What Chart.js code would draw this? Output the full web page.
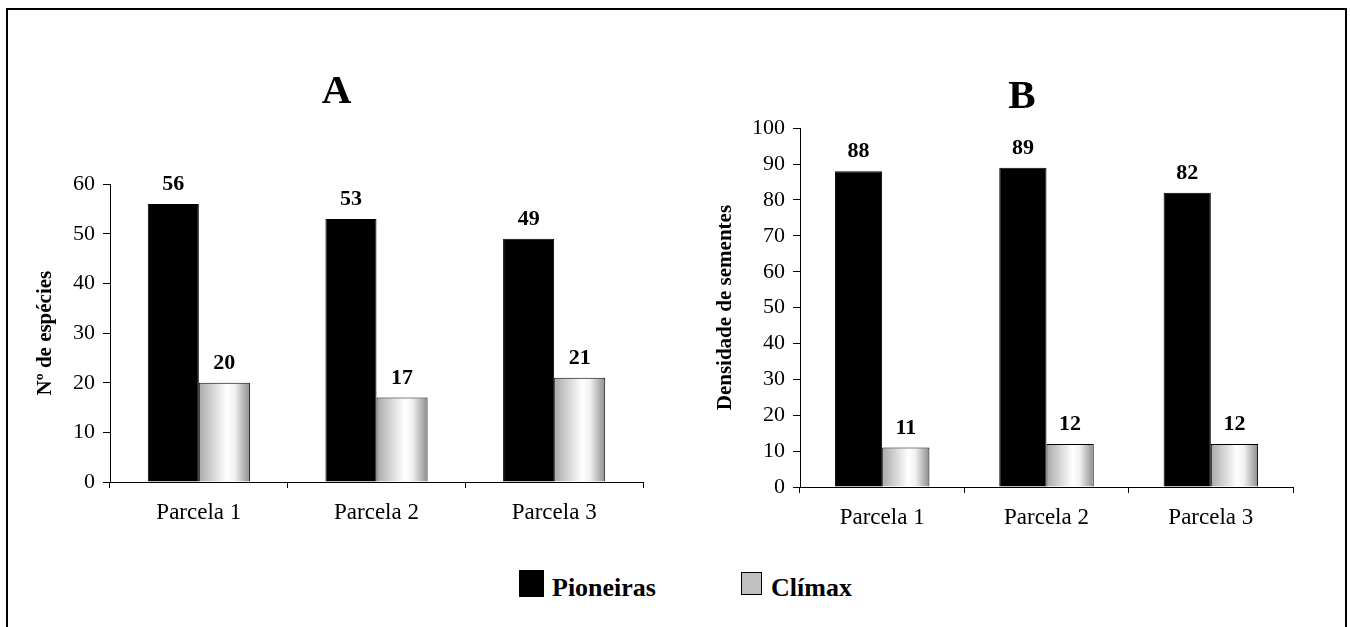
<!DOCTYPE html>
<html>
<head>
<meta charset="utf-8">
<script src="https://cdn.jsdelivr.net/npm/chart.js@4.4.0/dist/chart.umd.min.js"></script>
<style>
  body { margin: 0; background: #fff; width: 1350px; height: 627px; overflow: hidden; position: relative; font-family: "Liberation Serif", "Times New Roman", serif; }
  #frame { position: absolute; left: 6px; top: 8px; width: 1337px; height: 700px; border: 2px solid #000; border-bottom: none; z-index: 0; }
  canvas { position: absolute; top: 0; z-index: 1; }
  #chartA { left: 0; }
  #chartB { left: 675px; }
  .legBox { position: absolute; z-index: 2; box-sizing: border-box; }
  .legText { position: absolute; z-index: 2; font-size: 26px; font-weight: bold; line-height: 26px; color: #000; white-space: nowrap; }
</style>
</head>
<body>
<div id="frame"></div>
<canvas id="chartA" width="675" height="545"></canvas>
<canvas id="chartB" width="675" height="545"></canvas>
<div id="legend"></div>
<script>
// data
var categories = ["Parcela 1", "Parcela 2", "Parcela 3"];
var seriesNames = ["Pioneiras", "Clímax"];
var pioneirasEspecies = [56, 53, 49];
var climaxEspecies = [20, 17, 21];
var pioneirasDensidade = [88, 89, 82];
var climaxDensidade = [11, 12, 12];
var maxA = 60, maxB = 100, stepAB = 10;

var serif = '"Liberation Serif", "Times New Roman", serif';
Chart.defaults.font.family = serif;
Chart.defaults.color = "#000";
var catPct = 0.575;

// shaded fill for the climax bars (grey - white - grey, like the original)
function climaxFill(c) {
  var xs = c.chart.scales.x;
  if (c.type !== "data" || !xs || !c.chart.chartArea) return "#c0c0c0";
  var catW = (xs.right - xs.left) / categories.length;
  var x0 = xs.getPixelForValue(c.dataIndex);
  var x1 = x0 + catW * catPct / 2;
  var g = c.chart.ctx.createLinearGradient(x0, 0, x1, 0);
  g.addColorStop(0, "#a9a9a9");
  g.addColorStop(0.55, "#ffffff");
  g.addColorStop(0.7, "#f2f2f2");
  g.addColorStop(1, "#8c8c8c");
  return g;
}

// numbers above the bars
var valueLabels = {
  id: "valueLabels",
  afterDatasetsDraw: function (chart) {
    var ctx = chart.ctx;
    ctx.save();
    ctx.font = "bold 22px " + serif;
    ctx.textAlign = "center";
    ctx.textBaseline = "alphabetic";
    ctx.fillStyle = "#000";
    chart.data.datasets.forEach(function (ds, i) {
      chart.getDatasetMeta(i).data.forEach(function (bar, j) {
        ctx.fillText(ds.data[j], bar.x, bar.y - 14);
      });
    });
    ctx.restore();
  }
};

function makeChart(id, title, yTitle, pio, cli, yMax, pad, titlePad, yWidth, yTitlePad) {
  return new Chart(document.getElementById(id), {
    type: "bar",
    data: {
      labels: categories,
      datasets: [
        { label: seriesNames[0], data: pio, backgroundColor: "#000", borderColor: "#000", borderWidth: 1 },
        { label: seriesNames[1], data: cli, backgroundColor: climaxFill, borderColor: "#000", borderWidth: 1 }
      ]
    },
    options: {
      responsive: false,
      animation: false,
      events: [],
      layout: { padding: pad },
      datasets: { bar: { barPercentage: 1, categoryPercentage: catPct } },
      scales: {
        x: {
          grid: { drawOnChartArea: false, tickLength: 6, color: "#000", offset: true },
          border: { color: "#000", width: 1 },
          ticks: { color: "#000", font: { size: 23 }, padding: 11 },
          afterFit: function (s) { s.height = 50; }
        },
        y: {
          min: 0, max: yMax,
          grid: { drawOnChartArea: false, tickLength: 7, color: "#000" },
          border: { color: "#000", width: 1 },
          ticks: { stepSize: stepAB, color: "#000", font: { size: 22 }, padding: 8 },
          title: { display: true, text: yTitle, color: "#000", font: { size: 21, weight: "bold" }, padding: { top: yTitlePad, bottom: 0 } },
          afterFit: function (s) { s.width = yWidth; }
        }
      },
      plugins: {
        legend: { display: false },
        tooltip: { enabled: false },
        title: { display: true, text: title, color: "#000", font: { size: 41, weight: "bold" }, padding: titlePad }
      }
    },
    plugins: [valueLabels]
  });
}

var chartA = makeChart("chartA", "A", "Nº de espécies", pioneirasEspecies, climaxEspecies, maxA,
  { left: 30, right: 32, top: 60, bottom: 13 }, { top: 8, bottom: 67 }, 80, 3);
var chartB = makeChart("chartB", "B", "Densidade de sementes", pioneirasDensidade, climaxDensidade, maxB,
  { left: 76, right: 57, top: 65, bottom: 8 }, { top: 8, bottom: 6 }, 49, -38);

// legend shared by both charts
var legend = document.getElementById("legend");
var legItems = [
  { name: seriesNames[0], box: [519, 570, 25, 27], fill: "#000", border: "none", textLeft: 552 },
  { name: seriesNames[1], box: [741, 572, 21, 23], fill: "#c0c0c0", border: "1px solid #000", textLeft: 771 }
];
legItems.forEach(function (it) {
  var b = document.createElement("div");
  b.className = "legBox";
  b.style.left = it.box[0] + "px";
  b.style.top = it.box[1] + "px";
  b.style.width = it.box[2] + "px";
  b.style.height = it.box[3] + "px";
  b.style.background = it.fill;
  b.style.border = it.border;
  legend.appendChild(b);
  var t = document.createElement("div");
  t.className = "legText";
  t.style.left = it.textLeft + "px";
  t.style.top = "575px";
  t.textContent = it.name;
  legend.appendChild(t);
});
</script>
</body>
</html>
